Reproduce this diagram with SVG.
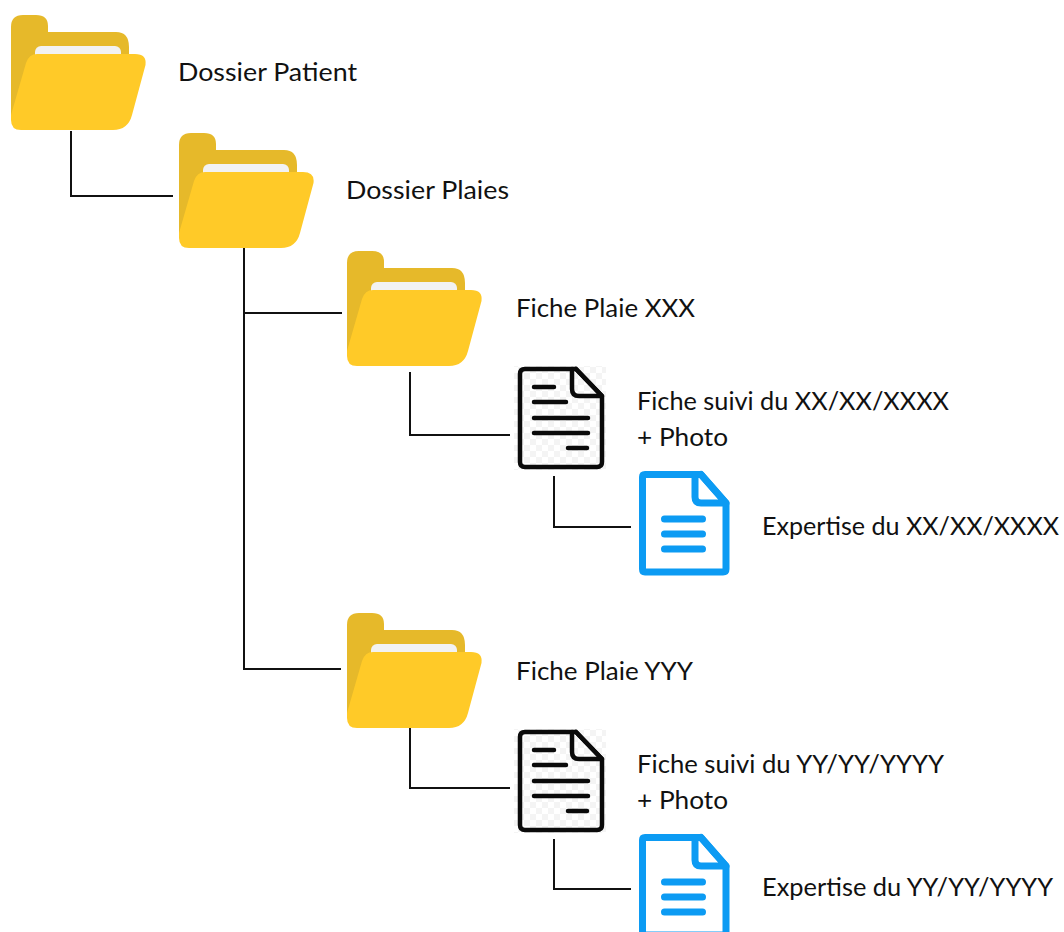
<svg xmlns="http://www.w3.org/2000/svg" width="1064" height="932" viewBox="0 0 1064 932">
<style>
text{font-family:"Lato","Open Sans","Liberation Sans",sans-serif;font-size:25.500px;fill:#111}
.c{fill:none;stroke:#111;stroke-width:2}
.bk{fill:none;stroke:#0a0a0a;stroke-width:4.500;stroke-linejoin:round;stroke-linecap:round}
.bl{fill:none;stroke:#0c9bf3;stroke-width:7;stroke-linejoin:round;stroke-linecap:round}
</style>
<defs>
<pattern id="chk" width="12" height="12" patternUnits="userSpaceOnUse"><rect width="12" height="12" fill="#fff"/><rect width="6" height="6" fill="#f4f4f4"/><rect x="6" y="6" width="6" height="6" fill="#f4f4f4"/></pattern>
<symbol id="folder" overflow="visible">
<path d="M0 105V12Q0 0 12 0H25Q37 0 37 11V17H105Q118 17 118 32V50H20Z" fill="#e6b92a"/>
<rect x="24" y="31" width="86" height="24" rx="6" fill="#f2f2f2"/>
<path d="M26 39H124Q136 39 134.500 50L121 100Q117 115 102 115H10Q0 115 0 105V100L15 48Q18 39 26 39Z" fill="#ffca28"/>
</symbol>
<symbol id="sheet" overflow="visible">
<rect x="-4" y="-1" width="92" height="104" fill="url(#chk)"/>
<path d="M58 2H7Q2 2 2 7V95Q2 100 7 100H79Q84 100 84 95V29Z" class="bk"/>
<path d="M54 2V22Q54 29 61 29H84L58 2" class="bk"/>
<path d="M16 20H36M16 35H48M16 51H70M16 66H70M50 81H69" class="bk"/>
</symbol>
<symbol id="blue" overflow="visible">
<path d="M62 3.500H6Q3.500 3.500 3.500 6V98Q3.500 101 6 101H84Q87 101 87 98V32Z" class="bl"/>
<path d="M56 3.500V26Q56 32 62 32H87L62 3.500" class="bl"/>
<path d="M25.500 48H63.500M25.500 63H63.500M25.500 78H63.500" class="bl"/>
</symbol>
</defs>
<g id="connectors">
<path class="c" d="M71 131V196H173"/>
<path class="c" d="M244 248V669H341"/>
<path class="c" d="M244 313H342"/>
<path class="c" d="M410 372V435H510"/>
<path class="c" d="M554 476V527H631"/>
<path class="c" d="M410 725V788H510"/>
<path class="c" d="M554 839V889H631"/>
</g>
<g id="dossier-patient"><use href="#folder" x="11" y="15"/><text x="178" y="81" textLength="179" lengthAdjust="spacingAndGlyphs">Dossier Patient</text></g>
<g id="dossier-plaies"><use href="#folder" x="179" y="133"/><text x="346" y="199" textLength="163" lengthAdjust="spacingAndGlyphs">Dossier Plaies</text></g>
<g id="fiche-plaie-xxx"><use href="#folder" x="347" y="251"/><text x="516" y="317" textLength="179" lengthAdjust="spacingAndGlyphs">Fiche Plaie XXX</text></g>
<g id="fiche-suivi-xx"><use href="#sheet" x="518" y="367"/><text x="637" y="410" textLength="312" lengthAdjust="spacingAndGlyphs">Fiche suivi du XX/XX/XXXX</text><text x="637" y="446" textLength="91" lengthAdjust="spacingAndGlyphs">+ Photo</text></g>
<g id="expertise-xx"><use href="#blue" x="639" y="471"/><text x="762" y="535" textLength="297" lengthAdjust="spacingAndGlyphs">Expertise du XX/XX/XXXX</text></g>
<g id="fiche-plaie-yyy"><use href="#folder" x="347" y="613"/><text x="516" y="680" textLength="177" lengthAdjust="spacingAndGlyphs">Fiche Plaie YYY</text></g>
<g id="fiche-suivi-yy"><use href="#sheet" x="518" y="730"/><text x="637" y="773" textLength="307" lengthAdjust="spacingAndGlyphs">Fiche suivi du YY/YY/YYYY</text><text x="637" y="809" textLength="91" lengthAdjust="spacingAndGlyphs">+ Photo</text></g>
<g id="expertise-yy"><use href="#blue" x="639" y="834"/><text x="762" y="896" textLength="291" lengthAdjust="spacingAndGlyphs">Expertise du YY/YY/YYYY</text></g>
</svg>
